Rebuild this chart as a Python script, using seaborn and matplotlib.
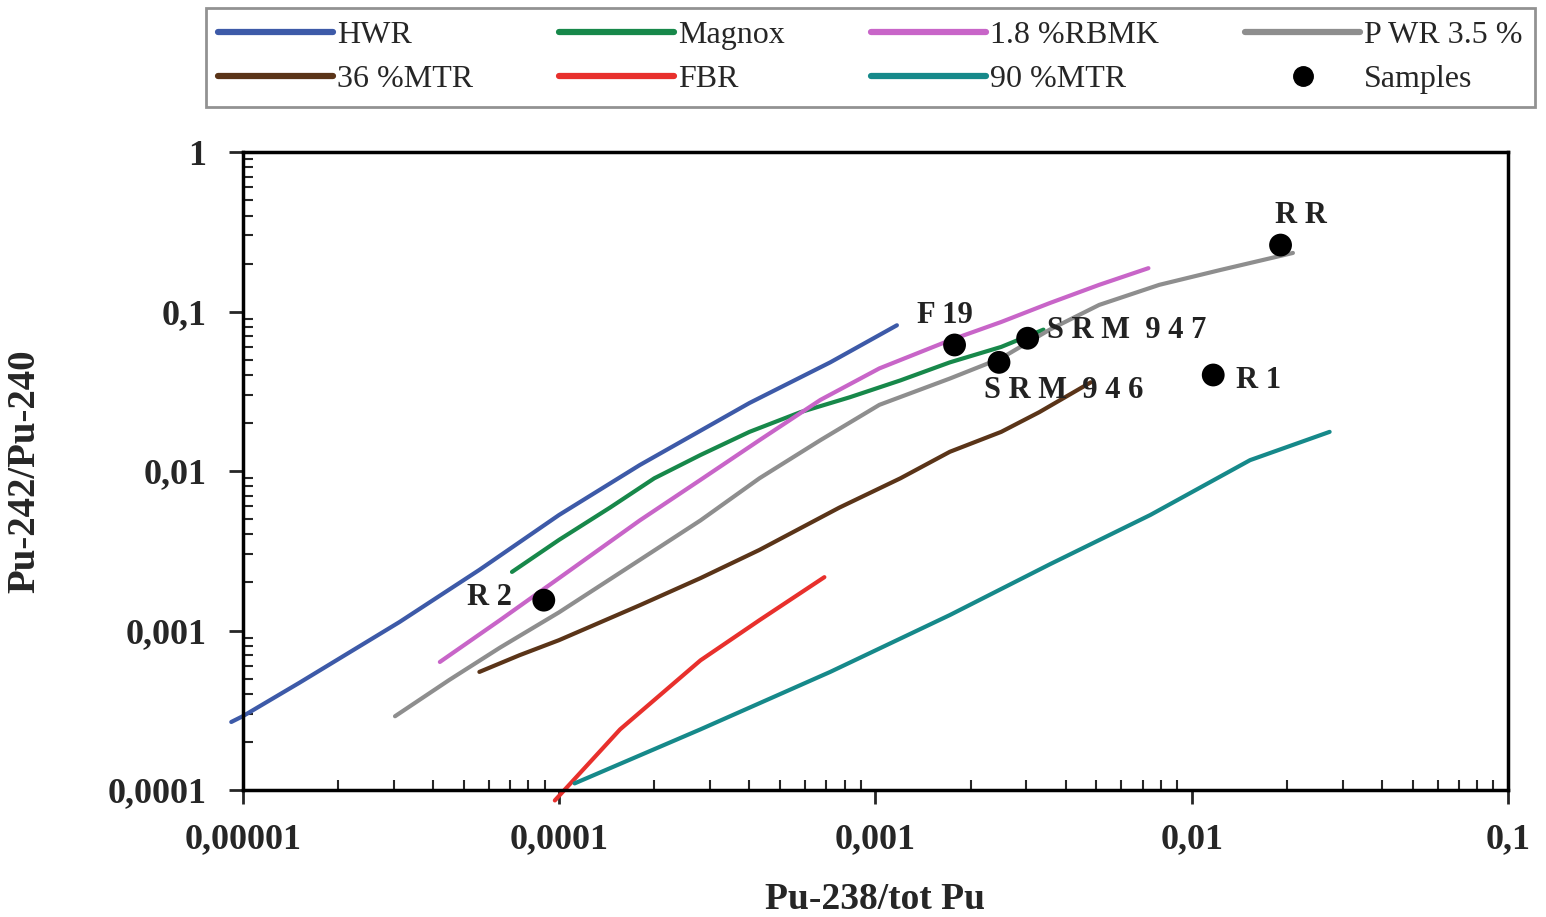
import numpy as np
import pandas as pd
import matplotlib
matplotlib.use("Agg")
import matplotlib.pyplot as plt
import seaborn as sns
from matplotlib.lines import Line2D

sns.set_style("white")
plt.rcParams['font.family'] = ['Liberation Serif', 'DejaVu Serif']

# Dados (Pu-238/tot Pu , Pu-242/Pu-240)
hwr_x = [9.2e-6, 1.0e-5, 1.51e-5, 3.13e-5, 5.6e-5, 1.0e-4, 1.8e-4, 4.0e-4, 7.2e-4, 1.17e-3]
hwr_y = [2.67e-4, 2.9e-4, 4.7e-4, 1.13e-3, 2.4e-3, 5.3e-3, 0.0109, 0.0267, 0.048, 0.082]

magnox_x = [7.1e-5, 1.0e-4, 1.45e-4, 2.0e-4, 2.8e-4, 4.0e-4, 5.8e-4, 8.3e-4, 1.2e-3, 1.72e-3, 2.5e-3, 3.4e-3]
magnox_y = [2.33e-3, 3.7e-3, 5.9e-3, 9.0e-3, 0.0126, 0.0176, 0.0234, 0.029, 0.037, 0.048, 0.060, 0.077]

rbmk_x = [4.2e-5, 6.5e-5, 1.0e-4, 1.8e-4, 2.8e-4, 4.3e-4, 6.7e-4, 1.03e-3, 1.72e-3, 2.5e-3, 3.56e-3, 5.1e-3, 7.3e-3]
rbmk_y = [6.35e-4, 1.16e-3, 2.13e-3, 4.9e-3, 8.8e-3, 0.0156, 0.0279, 0.044, 0.066, 0.086, 0.113, 0.147, 0.187]

pwr_x = [3.03e-5, 4.5e-5, 6.5e-5, 1.0e-4, 1.8e-4, 2.8e-4, 4.3e-4, 6.7e-4, 1.03e-3, 1.72e-3, 2.5e-3, 3.56e-3,
         5.1e-3, 7.9e-3, 0.0123, 0.0209]
pwr_y = [2.9e-4, 4.9e-4, 7.8e-4, 1.3e-3, 2.77e-3, 4.9e-3, 9.0e-3, 0.0156, 0.026, 0.038, 0.051, 0.077,
         0.11, 0.147, 0.182, 0.233]

mtr36_x = [5.6e-5, 7.5e-5, 1.0e-4, 1.8e-4, 2.8e-4, 4.3e-4, 7.7e-4, 1.2e-3, 1.72e-3, 2.5e-3, 3.3e-3, 4.8e-3]
mtr36_y = [5.5e-4, 7.0e-4, 8.7e-4, 1.44e-3, 2.13e-3, 3.2e-3, 5.9e-3, 9.0e-3, 0.0132, 0.0176, 0.0234, 0.036]

fbr_x = [9.7e-5, 1.56e-4, 2.8e-4, 4.3e-4, 6.9e-4]
fbr_y = [8.6e-5, 2.4e-4, 6.5e-4, 1.16e-3, 2.16e-3]

mtr90_x = [1.12e-4, 2.8e-4, 7.2e-4, 1.72e-3, 3.56e-3, 7.4e-3, 0.0153, 0.0273]
mtr90_y = [1.1e-4, 2.4e-4, 5.5e-4, 1.25e-3, 2.6e-3, 5.3e-3, 0.0117, 0.0176]

sample_names = ["R 2", "F 19", "SRM 946", "SRM 947", "R 1", "R R"]
sample_x = [8.95e-5, 1.78e-3, 2.46e-3, 3.03e-3, 0.0117, 0.0191]
sample_y = [1.55e-3, 0.0617, 0.048, 0.068, 0.040, 0.261]

series = {
    "HWR": (hwr_x, hwr_y, "#3d5aa8"),
    "Magnox": (magnox_x, magnox_y, "#17884a"),
    "1.8 %RBMK": (rbmk_x, rbmk_y, "#c865c8"),
    "P WR 3.5 %": (pwr_x, pwr_y, "#8e8e8e"),
    "36 %MTR": (mtr36_x, mtr36_y, "#5a3418"),
    "FBR": (fbr_x, fbr_y, "#e8302c"),
    "90 %MTR": (mtr90_x, mtr90_y, "#16898a"),
}

rows = []
for nome, (xs, ys, cor) in series.items():
    for a, b in zip(xs, ys):
        rows.append({"reactor": nome, "x": a, "y": b})
df = pd.DataFrame(rows)
palette = {nome: v[2] for nome, v in series.items()}

fig = plt.figure(figsize=(15.46, 9.17), dpi=100)
ax = fig.add_axes([0.157, 0.1385, 0.8184, 0.6957])

sns.lineplot(data=df, x="x", y="y", hue="reactor", palette=palette, sort=False,
             estimator=None, linewidth=3, legend=False, ax=ax)
for ln in ax.lines:
    ln.set_clip_on(False)
    ln.set_solid_capstyle("round")

samples = pd.DataFrame({"x": sample_x, "y": sample_y, "name": sample_names})
sns.scatterplot(data=samples, x="x", y="y", color="black", s=270, edgecolor="none",
                ax=ax, zorder=5, legend=False)

ax.set_xscale("log")
ax.set_yscale("log")
ax.set_xlim(1e-5, 0.1)
ax.set_ylim(1e-4, 1)

# rótulos das amostras
lbl = dict(fontsize=22, fontweight="bold", color="#222222")
ax.text(7.1e-5, 1.6e-3, "R 2", ha="right", va="center", **lbl)
ax.text(1.66e-3, 0.095, "F 19", ha="center", va="center", **lbl)
ax.text(3.5e-3, 0.0765, "S R M  9 4 7", ha="left", va="center", **lbl)
ax.text(2.2e-3, 0.032, "S R M  9 4 6", ha="left", va="center", **lbl)
ax.text(0.0138, 0.037, "R 1", ha="left", va="center", **lbl)
ax.text(0.0221, 0.40, "R R", ha="center", va="center", **lbl)

xt = [1e-5, 1e-4, 1e-3, 1e-2, 1e-1]
xl = ["0,00001", "0,0001", "0,001", "0,01", "0,1"]
yt = [1e-4, 1e-3, 1e-2, 1e-1, 1]
yl = ["0,0001", "0,001", "0,01", "0,1", "1"]
ax.set_xticks(xt)
ax.set_xticklabels(xl)
ax.set_yticks(yt)
ax.set_yticklabels(yl)
ax.xaxis.set_minor_locator(matplotlib.ticker.LogLocator(base=10, subs=np.arange(2, 10)))
ax.yaxis.set_minor_locator(matplotlib.ticker.LogLocator(base=10, subs=np.arange(2, 10)))
ax.xaxis.set_minor_formatter(matplotlib.ticker.NullFormatter())
ax.yaxis.set_minor_formatter(matplotlib.ticker.NullFormatter())
ax.tick_params(axis="both", which="major", direction="out", length=10, width=2,
               labelsize=26, bottom=True, left=True)
ax.tick_params(axis="both", which="minor", direction="in", length=7, width=1.5,
               bottom=True, left=True)
ax.tick_params(axis="x", which="major", pad=14)
ax.tick_params(axis="y", which="major", pad=16)
for t in ax.get_xticklabels() + ax.get_yticklabels():
    t.set_fontweight("bold")

for sp in ax.spines.values():
    sp.set_color("black")
    sp.set_linewidth(2.5)

ax.set_xlabel("Pu-238/tot Pu", fontsize=27, fontweight="bold")
ax.xaxis.set_label_coords(0.5, -0.145)
ax.set_ylabel("Pu-242/Pu-240", fontsize=28, fontweight="bold", labelpad=46)

# legenda (ordem por colunas)
ordem = ["HWR", "36 %MTR", "Magnox", "FBR", "1.8 %RBMK", "90 %MTR", "P WR 3.5 %"]
handles = [Line2D([], [], color=palette[n], lw=4.5) for n in ordem]
labels = list(ordem)
handles.append(Line2D([], [], color="black", marker="o", ls="none", markersize=14))
labels.append("Samples")
leg = fig.legend(handles, labels, ncol=4, loc="upper left", mode="expand",
                 bbox_to_anchor=(0.133, 0.883, 0.86, 0.108), bbox_transform=fig.transFigure,
                 fontsize=23, handlelength=3.6, handletextpad=0.12, columnspacing=0.5,
                 borderaxespad=0, frameon=True, fancybox=False, edgecolor="#777777",
                 labelspacing=0.45, borderpad=0.4)
leg.get_frame().set_linewidth(2)

plt.savefig("out.png", dpi=100)
